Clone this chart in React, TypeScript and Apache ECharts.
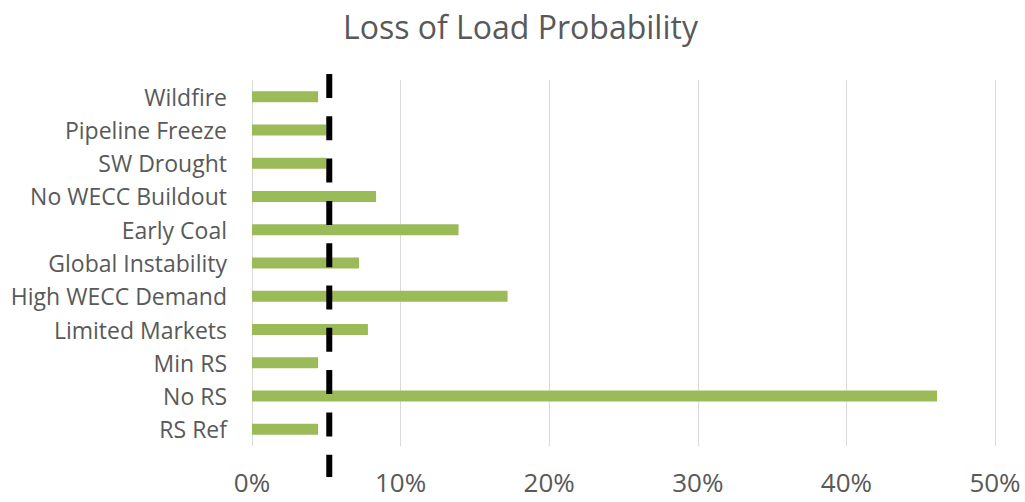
import React, { useEffect, useRef } from "react";
import * as echarts from "echarts";

// Scenarios, top to bottom
const scenarios = [
  "Wildfire",
  "Pipeline Freeze",
  "SW Drought",
  "No WECC Buildout",
  "Early Coal",
  "Global Instability",
  "High WECC Demand",
  "Limited Markets",
  "Min RS",
  "No RS",
  "RS Ref",
];

// Loss of load probability per scenario (%)
const lolp = [4.45, 5.0, 5.0, 8.35, 13.9, 7.2, 17.2, 7.8, 4.45, 46.1, 4.45];

// Reference threshold (%) drawn as a dashed vertical line
const threshold = [5.2];

const TEXT = "#595959";
const FONT = "'Open Sans', sans-serif";

export default function App() {
  const ref = useRef<HTMLDivElement>(null);

  useEffect(() => {
    document.body.style.margin = "0";
    if (!ref.current) return;
    const chart = echarts.init(ref.current, undefined, { renderer: "svg" });
    chart.setOption({
      animation: false,
      backgroundColor: "#ffffff",
      title: {
        text: "Loss of Load Probability",
        left: 343,
        top: 10,
        padding: 0,
        textStyle: { color: TEXT, fontFamily: FONT, fontWeight: "normal", fontSize: 32 },
      },
      grid: { left: 252, right: 30, top: 80, bottom: 56, containLabel: false },
      xAxis: {
        type: "value",
        min: 0,
        max: 50,
        interval: 10,
        axisLine: { show: false },
        axisTick: { show: false },
        splitLine: { show: true, lineStyle: { color: "#D9D9D9", width: 1 } },
        axisLabel: {
          formatter: "{value}%",
          color: TEXT,
          fontFamily: FONT,
          fontSize: 26,
          lineHeight: 26,
          margin: 23,
        },
      },
      yAxis: {
        type: "category",
        data: scenarios,
        inverse: true,
        axisLine: { show: false },
        axisTick: { show: false },
        axisLabel: { color: TEXT, fontFamily: FONT, fontSize: 23, margin: 25 },
      },
      series: [
        {
          type: "bar",
          data: lolp,
          barWidth: 11,
          itemStyle: { color: "#9BBB59" },
        },
        {
          type: "custom",
          data: threshold.map((v) => [v]),
          encode: { x: 0 },
          z: 5,
          renderItem: (params: any, api: any) => {
            const x = api.coord([api.value(0), 0])[0];
            const cs = params.coordSys;
            return {
              type: "line",
              shape: { x1: x, y1: cs.y - 6, x2: x, y2: cs.y + cs.height + 31 },
              style: { stroke: "#000000", lineWidth: 6, lineDash: [24, 18.3], lineCap: "butt" },
            };
          },
        },
      ],
    });
    return () => chart.dispose();
  }, []);

  return <div ref={ref} style={{ width: 1025, height: 502 }} />;
}
